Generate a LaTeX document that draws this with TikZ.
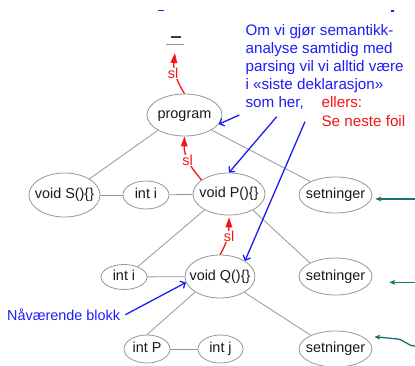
\documentclass[tikz,border=0pt]{standalone}
\usepackage{fontspec}
\setmainfont{Liberation Sans}
\usetikzlibrary{shapes.geometric,arrows.meta,calc}

\definecolor{edgegray}{RGB}{150,150,150}
\definecolor{annoblue}{RGB}{28,28,245}
\definecolor{slred}{RGB}{245,20,20}
\definecolor{ptrteal}{RGB}{25,112,112}
\definecolor{nodetext}{RGB}{25,25,25}
\definecolor{nilmark}{RGB}{60,60,60}

% centred label of zero width, so the ellipse size comes from the minimum sizes
\newcommand{\ctext}[1]{\makebox[0pt]{#1}}

\begin{document}
\begin{tikzpicture}[x=1pt,y=-1pt,
  blk/.style={ellipse, draw=edgegray, line width=0.8pt, inner sep=0pt,
    text=nodetext, font=\fontsize{14.4}{17}\selectfont,
    text height=10pt, text depth=3pt},
  tree/.style={draw=edgegray, line width=0.8pt},
  slarrow/.style={draw=slred, line width=1.3pt, -{Triangle[length=10pt,width=6.5pt]}},
  sllabel/.style={text=slred, fill=white, inner sep=0.5pt, font=\fontsize{14.4}{17}\selectfont},
  noteptr/.style={draw=annoblue, line width=1.3pt, -{Straight Barb[length=4pt,width=8pt]}},
  curptr/.style={draw=ptrteal, line width=1.3pt, -{Stealth[length=6pt,width=5pt]}},
]
\useasboundingbox (0,0) rectangle (415,365);

% stray marks of text above
\draw[annoblue, line width=1.4pt] (158,10.5) -- (164,10.5);
\draw[annoblue, line width=1.4pt] (390.5,11) -- (393.5,11);

% end of the static chain
\coordinate (nil) at (175,45);
\draw[nilmark, line width=1.5pt] (171,37) -- (181,37);
\draw[edgegray, line width=1.5pt] (166,44.7) -- (184,44.7);

% blocks
\node[blk, minimum width=75pt, minimum height=42pt] (prog) at (184.5,115) {\ctext{program}};
\node[blk, minimum width=71pt, minimum height=44pt] (vS) at (64.5,195) {\ctext{void S()\{\}}};
\node[blk, minimum width=46pt, minimum height=28pt] (ii1) at (146,195) {\ctext{int i}};
\node[blk, minimum width=72pt, minimum height=42pt] (vP) at (229,194) {\ctext{void P()\{\}}};
\node[blk, minimum width=73pt, minimum height=36pt] (set1) at (335.5,195) {\ctext{setninger}};
\node[blk, minimum width=46pt, minimum height=25pt] (ii2) at (124,277) {\ctext{int i}};
\node[blk, minimum width=70pt, minimum height=43pt] (vQ) at (220,276.5) {\ctext{void Q()\{\}}};
\node[blk, minimum width=73pt, minimum height=37pt] (set2) at (335.5,276.5) {\ctext{setninger}};
\node[blk, minimum width=46pt, minimum height=28pt] (intP) at (147,349) {\ctext{int P}};
\node[blk, minimum width=45pt, minimum height=28pt] (intj) at (220.5,349) {\ctext{int j}};
\node[blk, minimum width=73pt, minimum height=36pt] (set3) at (335.5,349) {\ctext{setninger}};

% syntax tree
\draw[tree] (prog.210) -- (vS.33);
\draw[tree] (prog.-29) -- (set1.152);
\draw[tree] (vS) -- (ii1);
\draw[tree] (ii1) -- (vP);
\draw[tree] (vP.213) -- (ii2.37);
\draw[tree] (vP.-34) -- (set2.152);
\draw[tree] (ii2) -- (vQ);
\draw[tree] (vQ.212) -- (intP.90);
\draw[tree] (vQ.-33) -- (set3.151);
\draw[tree] (intP) -- (intj);

% static links
\draw[slarrow] (prog.north) .. controls (177,82) and (173,70) .. (nil |- 0,53);
\node[sllabel] (sl1) at (173,73.3) {sl};
\draw[slarrow] (vP.153) .. controls (193,170) and (183.8,158) .. (prog.south);
\node[sllabel] (sl2) at (187.5,160.3) {sl};
\draw[slarrow] (vQ.north) .. controls (224,248) and (228.8,238) .. ($(vP.south)+(0,2)$);
\node[sllabel] (sl3) at (229,236.5) {sl};

% annotation
\node[anchor=base west, inner sep=0pt, text=annoblue] (note) at (245.4,35)
  {\vtop{\fontsize{15.2}{18.1}\selectfont
    \hbox{Om vi gjør semantikk-}\hbox{analyse samtidig med}%
    \hbox{parsing vil vi alltid være}\hbox{i «siste deklarasjon»}\hbox{som her,}}};
\node[anchor=base west, inner sep=0pt, text=slred] (else) at (321.4,107.3)
  {\vtop{\fontsize{15.2}{18.7}\selectfont\hbox{ellers:}\hbox{Se neste foil}}};

\coordinate (n1) at (239.3,115);
\coordinate (n2) at (276.7,116.7);
\coordinate (n3) at (305,121.7);
\draw[noteptr] (n1) -- (prog.-15);
\draw[noteptr] (n2) -- (vP.north);
\draw[noteptr] (n3) -- (vQ.32);

\node[anchor=base west, inner sep=0pt, text=annoblue, font=\fontsize{14.4}{17}\selectfont]
  (cur) at (7,320.5) {Nåværende blokk};
\draw[noteptr] ($(cur.east)+(5,0)$) -- (vQ.190);

% pointers from the right
\coordinate (p1) at (415,199);
\coordinate (p2) at (415,282.3);
\coordinate (p3) at (415,346);
\draw[curptr] (p1) -- ($(set1.east |- p1)+(3,0)$);
\draw[curptr] (p2) -- ($(set2.east |- p2)+(17,0)$);
\draw[curptr] (p3) .. controls (407,346) and (405,339.5) .. (396,338.8)
  .. controls (389,338.3) and (381,337.2) .. ($(set3.east)+(2,-12)$);
\end{tikzpicture}
\end{document}
